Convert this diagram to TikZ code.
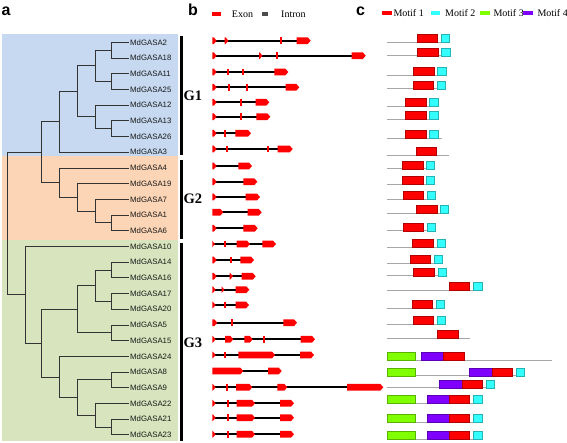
\documentclass[tikz,border=0pt]{standalone}
\usepackage{fontspec}
\setmainfont{Liberation Serif}
\newfontfamily\lsans{Liberation Sans}
\definecolor{bgblue}{HTML}{C6D9F1}
\definecolor{bgorange}{HTML}{FBD5B5}
\definecolor{bggreen}{HTML}{D7E4BD}
\definecolor{exred}{HTML}{FF0000}
\definecolor{mred}{HTML}{FF0000}
\definecolor{mcyan}{HTML}{33FFFF}
\definecolor{mgreen}{HTML}{80FF00}
\definecolor{mpurple}{HTML}{8000FF}
\newcommand\myintron[3]{\draw[intron] (#1,#3) -- (#2,#3);}
\newcommand\myexon[3]{\fill[exon] (#1,{#3-3.4}) -- ({#2-3},{#3-3.4}) -- (#2,#3) -- ({#2-3},{#3+3.4}) -- (#1,{#3+3.4}) -- cycle;}
\newcommand\mytick[2]{\fill[exon] ({#1-0.9},{#2-3.3}) rectangle ({#1+0.9},{#2+3.3});}
\newcommand\mystart[1]{\myexon{212.3}{216.7}{#1}}
\newcommand\mymotif[4]{\filldraw[motifbox,fill=#1,draw=#1!70!black] (#2,{#4-8}) rectangle (#3,#4);}
\newcommand\myline[2]{\draw[mline] (387.3,#2) -- (#1,#2);}
\begin{document}
\begin{tikzpicture}[x=1pt,y=-1pt,
  branch/.style={draw=black!80,line width=0.75pt},
  leaflbl/.style={font=\lsans\fontsize{7.8}{9}\selectfont,anchor=west,inner sep=1pt,text=black!90},
  panel/.style={font=\lsans\bfseries\fontsize{16}{16}\selectfont,inner sep=0pt,anchor=base west},
  glbl/.style={font=\bfseries\fontsize{14.5}{15}\selectfont,inner sep=0pt,anchor=west},
  gbar/.style={draw=black,line width=2.4pt},
  legtxt/.style={font=\fontsize{10}{11}\selectfont,inner sep=0pt,anchor=base west},
  intron/.style={draw=black,line width=1.7pt},
  exon/.style={fill=exred},
  motifbox/.style={line width=0.3pt},
  mline/.style={draw=black!35,line width=0.8pt}]
\fill[white] (0,0) rectangle (567,443);
\useasboundingbox (0,0) rectangle (567,443);
% backgrounds
\fill[bgblue] (2,34) rectangle (178,156);
\fill[bgorange] (2,156) rectangle (178,240);
\fill[bggreen] (2,240) rectangle (178,441);
% panel letters
\node[panel] (pa) at (1.5,16) {a};
\node[panel] (pb) at (188,16) {b};
\node[panel] (pc) at (356,16) {c};
% leaves
\node[leaflbl] (g2) at (129,42.3) {MdGASA2};
\node[leaflbl] (g18) at (129,58.0) {MdGASA18};
\node[leaflbl] (g11) at (129,73.7) {MdGASA11};
\node[leaflbl] (g25) at (129,89.4) {MdGASA25};
\node[leaflbl] (g12) at (129,105.1) {MdGASA12};
\node[leaflbl] (g13) at (129,120.8) {MdGASA13};
\node[leaflbl] (g26) at (129,136.5) {MdGASA26};
\node[leaflbl] (g3) at (129,152.2) {MdGASA3};
\node[leaflbl] (g4) at (129,167.9) {MdGASA4};
\node[leaflbl] (g19) at (129,183.6) {MdGASA19};
\node[leaflbl] (g7) at (129,199.3) {MdGASA7};
\node[leaflbl] (g1) at (129,215.0) {MdGASA1};
\node[leaflbl] (g6) at (129,230.7) {MdGASA6};
\node[leaflbl] (g10) at (129,246.4) {MdGASA10};
\node[leaflbl] (g14) at (129,262.1) {MdGASA14};
\node[leaflbl] (g16) at (129,277.8) {MdGASA16};
\node[leaflbl] (g17) at (129,293.5) {MdGASA17};
\node[leaflbl] (g20) at (129,309.2) {MdGASA20};
\node[leaflbl] (g5) at (129,324.9) {MdGASA5};
\node[leaflbl] (g15) at (129,340.6) {MdGASA15};
\node[leaflbl] (g24) at (129,356.3) {MdGASA24};
\node[leaflbl] (g8) at (129,372.0) {MdGASA8};
\node[leaflbl] (g9) at (129,387.7) {MdGASA9};
\node[leaflbl] (g22) at (129,403.4) {MdGASA22};
\node[leaflbl] (g21) at (129,419.1) {MdGASA21};
\node[leaflbl] (g23) at (129,434.8) {MdGASA23};
% internal nodes
\coordinate (n2x18) at (111,50.15);
\coordinate (n11x25) at (111,81.55);
\coordinate (nA) at (95,65.85);
\coordinate (n13x26) at (111,128.65);
\coordinate (nB) at (95,116.875);
\coordinate (nC) at (77,91.36);
\coordinate (nG1) at (59,121.78);
\coordinate (n1x6) at (111,222.85);
\coordinate (nD) at (95,211.08);
\coordinate (nE) at (77,197.34);
\coordinate (nG2) at (59,182.62);
\coordinate (nG12) at (41.7,152.2);
\coordinate (n14x16) at (111,269.95);
\coordinate (n17x20) at (111,301.35);
\coordinate (nF) at (95,285.65);
\coordinate (n5x15) at (111,332.75);
\coordinate (nH) at (77,309.2);
\coordinate (n8x9) at (111,379.85);
\coordinate (n21x23) at (111,426.95);
\coordinate (nI) at (95,415.18);
\coordinate (nJ) at (77,397.5);
\coordinate (nK) at (59,376.9);
\coordinate (nL) at (41.7,343.05);
\coordinate (nG3) at (25,294.7);
\coordinate (root) at (7.3,223.45);
\foreach \p/\c in {root/nG12,root/nG3,nG12/nG1,nG12/nG2,nG1/nC,nG1/g3,nC/nA,nC/nB,
  nA/n2x18,nA/n11x25,n2x18/g2,n2x18/g18,n11x25/g11,n11x25/g25,nB/g12,nB/n13x26,
  n13x26/g13,n13x26/g26,nG2/g4,nG2/nE,nE/g19,nE/nD,nD/g7,nD/n1x6,n1x6/g1,n1x6/g6,
  nG3/g10,nG3/nL,nL/nH,nL/nK,nH/nF,nH/n5x15,nF/n14x16,nF/n17x20,n14x16/g14,n14x16/g16,
  n17x20/g17,n17x20/g20,n5x15/g5,n5x15/g15,nK/g24,nK/nJ,nJ/n8x9,nJ/nI,n8x9/g8,n8x9/g9,
  nI/g22,nI/n21x23,n21x23/g21,n21x23/g23}
  \draw[branch] (\p) |- (\c);
% group bars
\draw[gbar] (181.3,36) -- (181.3,155);
\draw[gbar] (181.3,160) -- (181.3,239.3);
\draw[gbar] (181.3,243.3) -- (181.3,440.5);
\node[glbl] (G1) at (183.5,96) {G1};
\node[glbl] (G2) at (183.5,198.7) {G2};
\node[glbl] (G3) at (183.5,343) {G3};
% legend b
\fill[exred] (211.7,12.3) rectangle (220.7,16);
\node[legtxt] (lexon) at (231.7,17.3) {Exon};
\fill[black!70] (262.3,12.3) rectangle (268.3,16);
\node[legtxt] (lintron) at (281,17.3) {Intron};
% gene structures
\myintron{214}{297}{40.7}\mystart{40.7}\myexon{224.5}{228.5}{40.7}\mytick{281}{40.7}\myexon{296.7}{310.7}{40.7}
\myintron{214}{352}{55.7}\mystart{55.7}\myexon{259}{262.5}{55.7}\mytick{277}{55.7}\myexon{351.7}{365.7}{55.7}
\myintron{214}{275}{72}\mystart{72}\mytick{228.3}{72}\mytick{242.7}{72}\myexon{274.3}{288.3}{72}
\myintron{214}{286}{87.3}\mystart{87.3}\mytick{229}{87.3}\mytick{246.7}{87.3}\myexon{285.7}{299.3}{87.3}
\myintron{214}{256}{102.3}\mystart{102.3}\mytick{241.3}{102.3}\myexon{255.7}{269.3}{102.3}
\myintron{214}{257}{116.7}\mystart{116.7}\mytick{240.7}{116.7}\myexon{256.3}{270.3}{116.7}
\myintron{214}{236}{133.3}\mystart{133.3}\mytick{225.3}{133.3}\myexon{235.3}{251}{133.3}
\myintron{214}{278}{149}\mystart{149}\mytick{226.7}{149}\mytick{268.3}{149}\myexon{277.7}{292.7}{149}
\myintron{214}{239}{166}\mystart{166}\myexon{238.3}{252}{166}
\myintron{214}{244}{181.7}\mystart{181.7}\myexon{243.3}{257.3}{181.7}
\myintron{214}{246}{197}\mystart{197}\myexon{245.7}{260}{197}
\myintron{220}{248}{212.3}\myexon{212.3}{223.3}{212.3}\myexon{247.7}{261.7}{212.3}
\myintron{214}{244}{228.3}\mystart{228.3}\myexon{243.3}{257.7}{228.3}
\myintron{213}{263}{244}\myexon{212.3}{215}{244}\mytick{225.3}{244}\myexon{236.7}{250}{244}\myexon{262.3}{276}{244}
\myintron{214}{241}{260}\mystart{260}\mytick{231}{260}\myexon{240.3}{254}{260}
\myintron{214}{242}{276.3}\mystart{276.3}\myexon{229.7}{233}{276.3}\myexon{241.7}{255.7}{276.3}
\myintron{213}{236}{289.7}\myexon{212.3}{215.7}{289.7}\myexon{221.5}{224.5}{289.7}\myexon{235.7}{249.3}{289.7}
\myintron{213}{236}{305}\myexon{212.3}{215.7}{305}\mytick{225}{305}\myexon{235.7}{249}{305}
\myintron{214}{284}{322.7}\myexon{212.3}{217.3}{322.7}\mytick{231.7}{322.7}\myexon{283.3}{297}{322.7}
\myintron{213}{301}{339.3}\myexon{212.3}{215.7}{339.3}\myexon{225}{233.3}{339.3}\myexon{244.3}{252.7}{339.3}\mytick{264}{339.3}\myexon{300.7}{315}{339.3}
\myintron{213}{300}{355}\myexon{212.3}{215.7}{355}\mytick{225}{355}\myexon{238.3}{275}{355}\myexon{300}{314}{355}
\myintron{240}{268}{371}\myexon{212.3}{243.3}{371}\myexon{268}{281.7}{371}
\myintron{213}{347}{387.3}\myexon{212.3}{215.7}{387.3}\mytick{227.3}{387.3}\myexon{236}{252.3}{387.3}\myexon{277.3}{287.3}{387.3}\myexon{347}{383.3}{387.3}
\myintron{213}{280}{403.3}\myexon{212.3}{215.7}{403.3}\mytick{228}{403.3}\myexon{236.7}{255}{403.3}\myexon{280}{294}{403.3}
\myintron{213}{280}{417.7}\myexon{212.3}{215.7}{417.7}\mytick{228}{417.7}\myexon{236.7}{255}{417.7}\myexon{280}{294}{417.7}
\myintron{213}{280}{434.3}\myexon{212.3}{215.7}{434.3}\mytick{228}{434.3}\myexon{236.7}{255}{434.3}\myexon{280}{294}{434.3}
% legend c
\fill[mred] (381.7,10.7) rectangle (392.3,14.7);
\node[legtxt] (lm1) at (393.3,16.7) {Motif 1};
\fill[mcyan] (430.7,10.7) rectangle (440,14.7);
\node[legtxt] (lm2) at (445,16.7) {Motif 2};
\fill[mgreen] (480,10.7) rectangle (490,14.7);
\node[legtxt] (lm3) at (493.3,16.7) {Motif 3};
\fill[mpurple] (523.3,10.7) rectangle (533.3,14.7);
\node[legtxt] (lm4) at (537.3,16.7) {Motif 4};
% motifs
\myline{449.3}{42.3}\mymotif{mred}{416.7}{437.3}{42.3}\mymotif{mcyan}{441}{449.3}{42.3}
\myline{449.7}{55.7}\mymotif{mred}{417}{437.7}{55.7}\mymotif{mcyan}{441}{449.7}{55.7}
\myline{445.7}{75.3}\mymotif{mred}{413}{433.7}{75.3}\mymotif{mcyan}{437.3}{445.7}{75.3}
\myline{445.3}{88.7}\mymotif{mred}{412.7}{433.3}{88.7}\mymotif{mcyan}{437}{445.3}{88.7}
\myline{437.7}{106}\mymotif{mred}{405.3}{425.7}{106}\mymotif{mcyan}{429.3}{437.7}{106}
\myline{437.7}{119}\mymotif{mred}{405.3}{425.7}{119}\mymotif{mcyan}{429.3}{437.7}{119}
\myline{442}{138.3}\mymotif{mred}{405.3}{425.7}{138.3}\mymotif{mcyan}{429.3}{437.7}{138.3}
\myline{449.3}{155}\mymotif{mred}{415.7}{436}{155}
\myline{434.3}{168.7}\mymotif{mred}{402}{422.7}{168.7}\mymotif{mcyan}{426.3}{434.3}{168.7}
\myline{434.3}{184.3}\mymotif{mred}{402}{422.7}{184.3}\mymotif{mcyan}{426.3}{434.3}{184.3}
\myline{435}{199}\mymotif{mred}{403}{423.3}{199}\mymotif{mcyan}{427}{435}{199}
\myline{448.3}{213}\mymotif{mred}{416.3}{436.7}{213}\mymotif{mcyan}{440.3}{448.3}{213}
\myline{435}{230.7}\mymotif{mred}{403}{423.3}{230.7}\mymotif{mcyan}{427}{435}{230.7}
\myline{445}{247}\mymotif{mred}{412.3}{433}{247}\mymotif{mcyan}{437}{445}{247}
\myline{442.3}{263.3}\mymotif{mred}{409.7}{430}{263.3}\mymotif{mcyan}{434.3}{442.3}{263.3}
\myline{446}{275.7}\mymotif{mred}{413.3}{433.7}{275.7}\mymotif{mcyan}{438}{446}{275.7}
\myline{481.7}{290.5}\mymotif{mred}{448.7}{469.3}{290.5}\mymotif{mcyan}{473.3}{481.7}{290.5}
\myline{444.3}{308}\mymotif{mred}{411.7}{432.3}{308}\mymotif{mcyan}{436}{444.3}{308}
\myline{445.3}{324.3}\mymotif{mred}{412.7}{433.3}{324.3}\mymotif{mcyan}{437}{445.3}{324.3}
\myline{470}{338}\mymotif{mred}{437.3}{458}{338}
\myline{551.7}{360}\mymotif{mgreen}{387.3}{414.7}{360}\mymotif{mpurple}{421.3}{443.3}{360}\mymotif{mred}{443.3}{464}{360}
\myline{524.3}{375.7}\mymotif{mgreen}{387.3}{414.7}{375.7}\mymotif{mpurple}{469.3}{491.7}{375.7}\mymotif{mred}{491.7}{512}{375.7}\mymotif{mcyan}{516}{524.3}{375.7}
\myline{494}{387.7}\mymotif{mpurple}{439.3}{461.7}{387.7}\mymotif{mred}{461.7}{481.7}{387.7}\mymotif{mcyan}{486}{494}{387.7}
\myline{481.7}{403.3}\mymotif{mgreen}{387.3}{414.7}{403.3}\mymotif{mpurple}{426.7}{448.7}{403.3}\mymotif{mred}{448.7}{469}{403.3}\mymotif{mcyan}{473.3}{481.7}{403.3}
\myline{481.7}{422}\mymotif{mgreen}{387.3}{414.7}{422}\mymotif{mpurple}{426.7}{448.7}{422}\mymotif{mred}{448.7}{469}{422}\mymotif{mcyan}{473.3}{481.7}{422}
\myline{481.7}{439}\mymotif{mgreen}{387.3}{414.7}{439}\mymotif{mpurple}{426.7}{448.7}{439}\mymotif{mred}{448.7}{469}{439}\mymotif{mcyan}{473.3}{481.7}{439}
\end{tikzpicture}
\end{document}
